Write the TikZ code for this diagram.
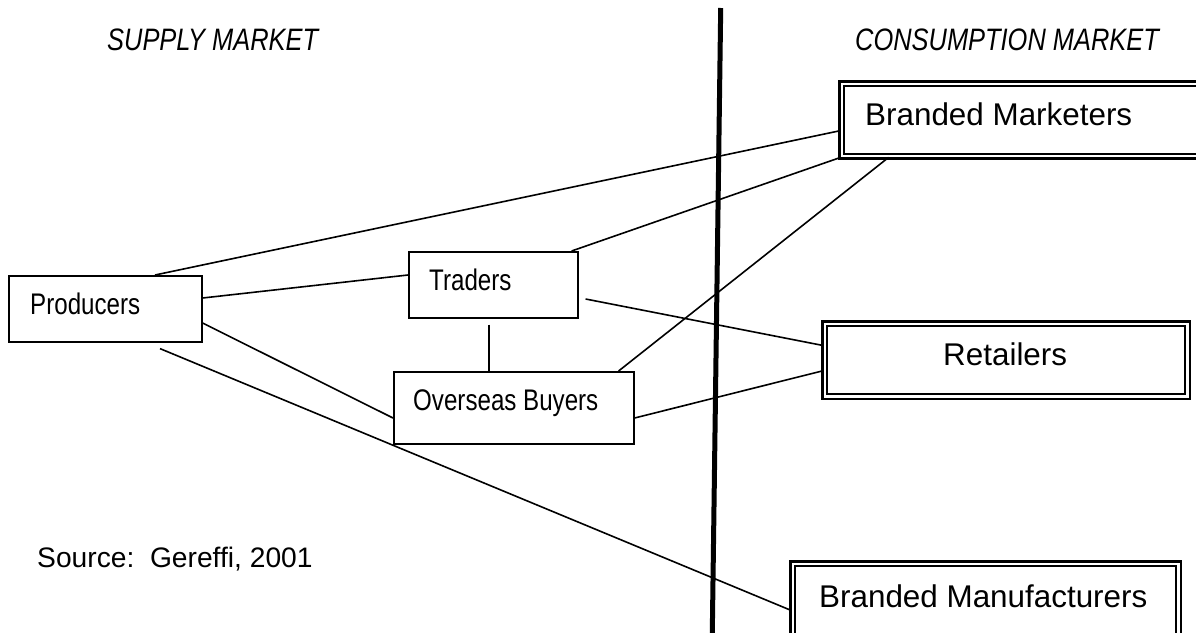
\documentclass[tikz,border=0pt]{standalone}
\usepackage{fontspec}
\setmainfont{Liberation Sans}
\newfontfamily\narrowfont[FakeStretch=0.81]{Liberation Sans}
\newfontfamily\headfont[FakeStretch=0.82]{Liberation Sans}
\begin{document}
\begin{tikzpicture}[x=1pt,y=-1pt,
  box/.style={draw, line width=1.6pt, inner sep=0pt, anchor=north west},
  dbox/.style={draw, line width=2.4pt, double, double distance=2.3pt, inner sep=0pt, anchor=north west},
  conn/.style={line width=1.6pt},
  smalltxt/.style={anchor=base west, inner sep=0pt, font=\narrowfont\fontsize{29.8}{34}\selectfont},
  bigtxt/.style={anchor=base west, inner sep=0pt, font=\fontsize{31.4}{36}\selectfont},
  headtxt/.style={anchor=base west, inner sep=0pt, font=\headfont\itshape\fontsize{31}{36}\selectfont},
  srctxt/.style={anchor=base west, inner sep=0pt, font=\fontsize{28.2}{34}\selectfont}]
\useasboundingbox (0,0) rectangle (1196,632);
\clip (0,0) rectangle (1196,632);
% boxes
\node[box, minimum width=193pt, minimum height=66pt] (prod) at (8,275) {};
\node[box, minimum width=169pt, minimum height=66pt] (tr) at (408,251) {};
\node[box, minimum width=240pt, minimum height=72pt] (ob) at (393,371) {};
\node[dbox, minimum width=400pt, minimum height=72.4pt] (bm) at (840.6,82.6) {};
\node[dbox, minimum width=362.8pt, minimum height=72.8pt] (ret) at (823.6,322.6) {};
\node[dbox, minimum width=385.8pt, minimum height=90pt] (bmf) at (791.6,562.6) {};
% texts
\node[smalltxt] (prodt) at (30,314) {Producers};
\node[smalltxt] (trt) at (429,290) {Traders};
\node[smalltxt] (obt) at (413,410) {Overseas Buyers};
\node[bigtxt] (bmt) at (865,125) {Branded Marketers};
\node[bigtxt] (rett) at (943,365) {Retailers};
\node[bigtxt] (bmft) at (819,607) {Branded Manufacturers};
\node[headtxt] (supply) at (107,50) {SUPPLY MARKET};
\node[headtxt] (cons) at (855,50) {CONSUMPTION MARKET};
\node[srctxt] (src) at (37,567) {Source:~~Gereffi, 2001};
% divider
\draw[line width=5pt] (720.7,8) -- (712.2,640);
% connectors
\draw[conn] ([xshift=147pt]prod.north west) -- ([yshift=-48pt]bm.north west);
\draw[conn] ([xshift=-7pt]tr.north east) -- (bm.south west);
\draw[conn] ([xshift=-16pt]ob.north east) -- ([xshift=48pt]bm.south west);
\draw[conn] ([yshift=-23pt]prod.north east) -- ([yshift=-24pt]tr.north west);
\draw[conn] ([xshift=7pt,yshift=-48pt]tr.north east) -- ([yshift=-23pt]ret.north west);
\draw[conn] ([yshift=-48pt]prod.north east) -- ([yshift=-47pt]ob.north west);
\draw[conn] ([yshift=-47pt]ob.north east) -- ([yshift=-48pt]ret.north west);
\draw[conn] ([xshift=152pt,yshift=-6pt]prod.south west) -- ([yshift=-48pt]bmf.north west);
\draw[conn] ([xshift=81pt,yshift=-6pt]tr.south west) -- ([xshift=96pt]ob.north west);
\end{tikzpicture}
\end{document}
